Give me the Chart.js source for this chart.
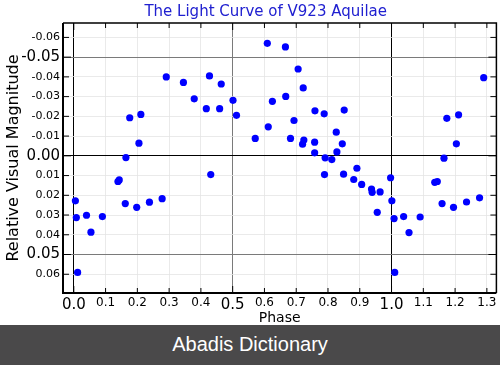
<!DOCTYPE html>
<html>
<head>
<meta charset="utf-8">
<script src="https://cdn.jsdelivr.net/npm/chart.js@4/dist/chart.umd.min.js"></script>
<style>
  html, body { margin: 0; padding: 0; background: #fff; }
  #wrap { width: 500px; height: 325px; position: relative; }
  #banner {
    width: 500px; height: 40px; background: #4a494a; color: #fff;
    font: 20px "Liberation Sans", Arial, sans-serif;
    text-align: center; line-height: 38px;
  }
</style>
</head>
<body>
<div id="wrap"><canvas id="lightcurve"></canvas></div>
<div id="banner">Abadis Dictionary</div>
<script>
const chartTitle = "The Light Curve of V923 Aquilae";
const xTitle = "Phase";
const yTitle = "Relative Visual Magnitude";

// phase / relative magnitude
const phase = [
  0.005, 0.008, 0.012, 0.040, 0.054, 0.090, 0.139, 0.143, 0.162, 0.164,
  0.176, 0.198, 0.205, 0.211, 0.238, 0.278, 0.291, 0.345, 0.379, 0.417,
  0.427, 0.431, 0.459, 0.464, 0.501, 0.512, 0.571, 0.609, 0.612, 0.625,
  0.666, 0.667, 0.682, 0.693, 0.706, 0.720, 0.722, 0.724, 0.758, 0.758,
  0.759, 0.788, 0.789, 0.791, 0.812, 0.826, 0.828, 0.845, 0.849, 0.851,
  0.881, 0.891, 0.906, 0.937, 0.939, 0.955, 0.964, 0.997, 1.001, 1.008,
  1.010, 1.038, 1.055, 1.090, 1.136, 1.144, 1.159, 1.165, 1.174, 1.195,
  1.204, 1.211, 1.236, 1.277, 1.290
];
const magnitude = [
  0.0228, 0.0313, 0.0591, 0.0301, 0.0387, 0.0308, 0.0130, 0.0122, 0.0242, 0.0009,
  -0.0193, 0.0261, -0.0064, -0.0210, 0.0235, 0.0217, -0.0400, -0.0372, -0.0289, -0.0239,
  -0.0405, 0.0095, -0.0239, -0.0364, -0.0281, -0.0205, -0.0088, -0.0570, -0.0147, -0.0276,
  -0.0552, -0.0301, -0.0088, -0.0179, -0.0440, -0.0059, -0.0344, -0.0080, -0.0069, -0.0015,
  -0.0228, -0.0213, 0.0095, 0.0010, 0.0019, -0.0120, -0.0020, -0.0061, 0.0093, -0.0232,
  0.0120, 0.0063, 0.0145, 0.0168, 0.0185, 0.0286, 0.0183, 0.0111, 0.0228, 0.0318,
  0.0591, 0.0308, 0.0389, 0.0310, 0.0134, 0.0130, 0.0242, 0.0012, -0.0190, 0.0261,
  -0.0061, -0.0208, 0.0234, 0.0213, -0.0396
];

const xMajor = [0, 0.5, 1.0];
const yMajor = [-0.05, 0, 0.05];

function isMajor(v, list) {
  return list.some(m => Math.abs(v - m) < 1e-6);
}

const points = phase.map((p, i) => ({ x: p, y: magnitude[i] }));

// frame, inward tick marks and the title
const framePlugin = {
  id: "frame",
  afterDraw(chart) {
    const ctx = chart.ctx;
    const a = chart.chartArea;
    const xs = chart.scales.x, ys = chart.scales.y;
    ctx.save();
    ctx.strokeStyle = "#000";
    ctx.lineWidth = 1;
    xs.ticks.forEach(t => {
      const px = xs.getPixelForValue(t.value);
      const len = isMajor(t.value, xMajor) ? 7 : 5;
      ctx.beginPath();
      ctx.moveTo(px, a.bottom); ctx.lineTo(px, a.bottom - len);
      ctx.moveTo(px, a.top); ctx.lineTo(px, a.top + len);
      ctx.stroke();
    });
    ys.ticks.forEach(t => {
      const py = ys.getPixelForValue(t.value);
      const len = isMajor(t.value, yMajor) ? 8 : 6;
      ctx.beginPath();
      ctx.moveTo(a.left, py); ctx.lineTo(a.left + len, py);
      ctx.moveTo(a.right, py); ctx.lineTo(a.right - len, py);
      ctx.stroke();
    });
    ctx.lineWidth = 2;
    ctx.beginPath();
    ctx.moveTo(a.left, a.top); ctx.lineTo(a.left, a.bottom); ctx.lineTo(a.right, a.bottom);
    ctx.stroke();
    ctx.lineWidth = 1.5;
    ctx.beginPath();
    ctx.moveTo(a.left, a.top); ctx.lineTo(a.right, a.top); ctx.lineTo(a.right, a.bottom);
    ctx.stroke();

    ctx.fillStyle = "#2020d0";
    ctx.font = '15px "DejaVu Sans"';
    ctx.textAlign = "center";
    ctx.textBaseline = "middle";
    ctx.fillText(chartTitle, (a.left + a.right) / 2 - 14, 12);
    ctx.restore();
  }
};

function gridColor(list) {
  return (c) => {
    const v = c.tick ? c.tick.value : 0;
    if (Math.abs(v) < 1e-6 || Math.abs(v - 1) < 1e-6) return "#000";
    if (isMajor(v, list)) return "#7a7a7a";
    return "#e4e4e4";
  };
}

new Chart(document.getElementById("lightcurve"), {
  type: "scatter",
  data: {
    datasets: [{
      data: points,
      backgroundColor: "#0000ff",
      borderWidth: 0,
      pointRadius: 3.6,
      pointHoverRadius: 3.6
    }]
  },
  options: {
    responsive: true,
    maintainAspectRatio: false,
    animation: false,
    layout: { padding: { top: 23, right: 2, bottom: 0, left: 0 } },
    plugins: {
      legend: { display: false },
      tooltip: { enabled: false }
    },
    scales: {
      x: {
        type: "linear",
        min: -0.034,
        max: 1.33,
        afterFit: (s) => { s.height = 32; },
        border: { display: false },
        grid: {
          drawTicks: false,
          color: gridColor(xMajor),
          lineWidth: (c) => (c.tick && isMajor(c.tick.value, xMajor)) ? 1 : 0.8
        },
        ticks: {
          stepSize: 0.1,
          includeBounds: false,
          padding: 3,
          color: "#000",
          maxRotation: 0,
          autoSkip: false,
          font: (c) => ({
            family: "DejaVu Sans",
            size: (c.tick && isMajor(c.tick.value, xMajor)) ? 15 : 12
          }),
          callback: (v) => (Math.abs(v) < 1e-9 ? 0 : v).toFixed(1)
        },
        title: {
          display: true,
          text: xTitle,
          color: "#000",
          font: { family: "DejaVu Sans", size: 14, lineHeight: 1 },
          padding: { top: 0, bottom: 0 }
        }
      },
      y: {
        type: "linear",
        reverse: true,
        min: -0.0673,
        max: 0.0695,
        afterFit: (s) => { s.width = 63; },
        border: { display: false },
        grid: {
          drawTicks: false,
          color: gridColor(yMajor),
          lineWidth: (c) => (c.tick && isMajor(c.tick.value, yMajor)) ? 1 : 0.8
        },
        ticks: {
          stepSize: 0.01,
          includeBounds: false,
          padding: 3,
          color: "#000",
          autoSkip: false,
          font: (c) => ({
            family: "DejaVu Sans",
            size: (c.tick && isMajor(c.tick.value, yMajor)) ? 15 : 11
          }),
          callback: (v) => (Math.abs(v) < 1e-9 ? 0 : v).toFixed(2)
        },
        title: {
          display: true,
          text: yTitle,
          color: "#000",
          font: { family: "DejaVu Sans", size: 16, lineHeight: 1 },
          padding: { top: 6, bottom: 0 }
        }
      }
    }
  },
  plugins: [framePlugin]
});
</script>
</body>
</html>
